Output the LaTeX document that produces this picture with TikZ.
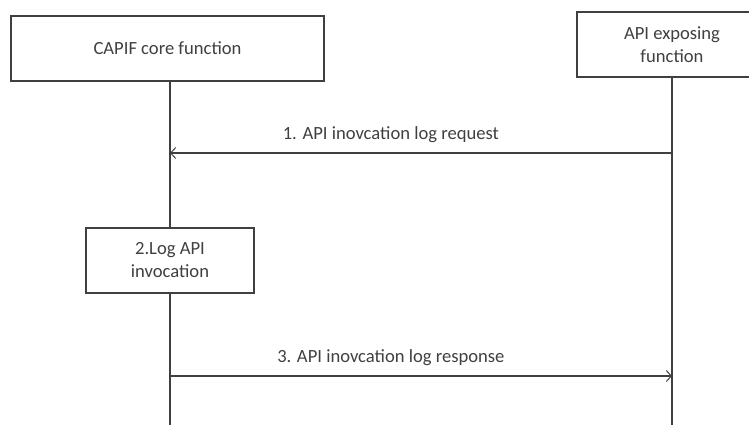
\documentclass[tikz,border=0pt]{standalone}
\usepackage{fontspec}
\setmainfont{Carlito}
\usetikzlibrary{arrows.meta}
\definecolor{ink}{RGB}{64,64,64}
\tikzset{
  entity/.style={draw=ink,line width=1.1pt,fill=white,align=center,text=ink,inner sep=0pt},
  lifeline/.style={draw=ink,line width=1.1pt},
  msg/.style={draw=ink,line width=1.1pt,-{Straight Barb[length=5pt,width=11pt,line width=1pt]}},
  msglabel/.style={text=ink,above=6pt}
}
\begin{document}
\begin{tikzpicture}[x=1pt,y=-1pt,font=\fontsize{18.6}{23}\selectfont]
    \useasboundingbox (0,0) rectangle (749,425);
    % boxes
    \node[entity,minimum width=313pt,minimum height=65pt] (core) at (167.5,48.5) {CAPIF core function};
    \node[entity,minimum width=190pt,minimum height=65pt] (aef) at (672,44.5) {API exposing\\function};
    \node[entity,minimum width=168pt,minimum height=65pt] (log) at (170,260.5) {2.Log API\\invocation};
    % lifelines
    \coordinate (coreEnd) at (170,425);
    \coordinate (aefEnd) at (672,425);
    \draw[lifeline] (core.south -| log.center) -- (log.north);
    \draw[lifeline] (log.south) -- (coreEnd);
    \draw[lifeline] (aef.south) -- (aefEnd);
    % messages
    \coordinate (reqA) at (672,153);
    \coordinate (reqB) at (170,153);
    \coordinate (rspA) at (170,376);
    \coordinate (rspB) at (672,376);
    \draw[msg] (reqA) -- (reqB) node[msglabel,pos=0.56] {1. API inovcation log request};
    \draw[msg] (rspA) -- (rspB) node[msglabel,pos=0.44] {3. API inovcation log response};
\end{tikzpicture}
\end{document}
